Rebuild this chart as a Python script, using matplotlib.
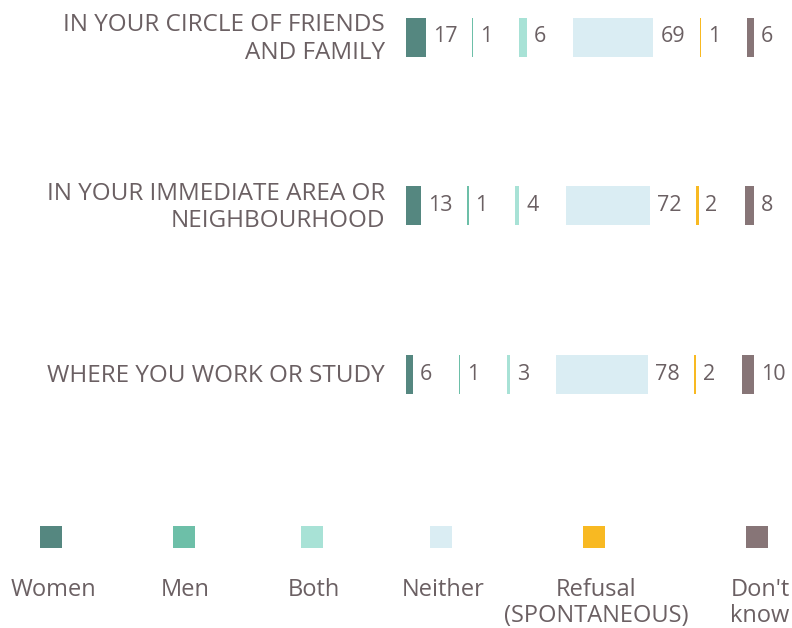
import matplotlib
matplotlib.use('Agg')
import matplotlib.pyplot as plt
import matplotlib.patches as mpatches
import numpy as np

plt.rcParams['font.family'] = ['Open Sans', 'DejaVu Sans']

categories = ['IN YOUR CIRCLE OF FRIENDS\nAND FAMILY',
              'IN YOUR IMMEDIATE AREA OR\nNEIGHBOURHOOD',
              'WHERE YOU WORK OR STUDY']
series = ['Women', 'Men', 'Both', 'Neither', 'Refusal\n(SPONTANEOUS)', "Don't\nknow"]
women = [17, 13, 6]
men = [1, 1, 1]
both = [6, 4, 3]
neither = [69, 72, 78]
refusal = [1, 2, 2]
dont_know = [6, 8, 10]

colors = ['#558780', '#6dbfa8', '#a8e2d6', '#daedf3', '#f8b922', '#877577']
text_col = '#6b6063'

W, H = 792, 628
fig = plt.figure(figsize=(W / 100, H / 100), dpi=100)

# main axes: x starts at 406px, 1.17 px per unit
x0 = 406
scale = 1.17
xmax = (W - x0) / scale
ax = fig.add_axes([x0 / W, 0, 1 - x0 / W, 1])
row_px = 168.5
top_px = 37
ax.set_xlim(0, xmax)
ax.set_ylim((H - top_px) / row_px, -top_px / row_px)
ax.axis('off')

gap = 39.5
bar_h = 39 / row_px
data = np.array([women, men, both, neither, refusal, dont_know])
y = np.arange(len(categories))
left = np.zeros(len(categories))
for i, vals in enumerate(data):
    ax.barh(y, vals, left=left, height=bar_h, color=colors[i], linewidth=0)
    for yy, l, v in zip(y, left, vals):
        ax.annotate(str(v), (l + v, yy), xytext=(5, 0), textcoords='offset points',
                    va='center', ha='left', fontsize=15.5, color=text_col)
    left = left + vals + gap

for yy, cat in zip(y, categories):
    fig.text(385 / W, 1 - (top_px + 2 + yy * row_px) / H, cat, ha='right', va='center',
             fontsize=17.5, color=text_col, linespacing=1.2)

# legend drawn by hand along the bottom
leg_x = [53, 185, 314, 443, 596, 760]
sq_x = [51, 184, 312, 441, 594, 757]
for cx, sx, col, lab in zip(leg_x, sq_x, colors, series):
    fig.patches.append(mpatches.Rectangle(((sx - 11) / W, 1 - 548 / H), 22 / W, 22 / H,
                                          transform=fig.transFigure, color=col, lw=0))
    fig.text(cx / W, 1 - 578 / H, lab, ha='center', va='top', fontsize=17,
             color=text_col, linespacing=1.1)

fig.savefig('out.png', dpi=100)
